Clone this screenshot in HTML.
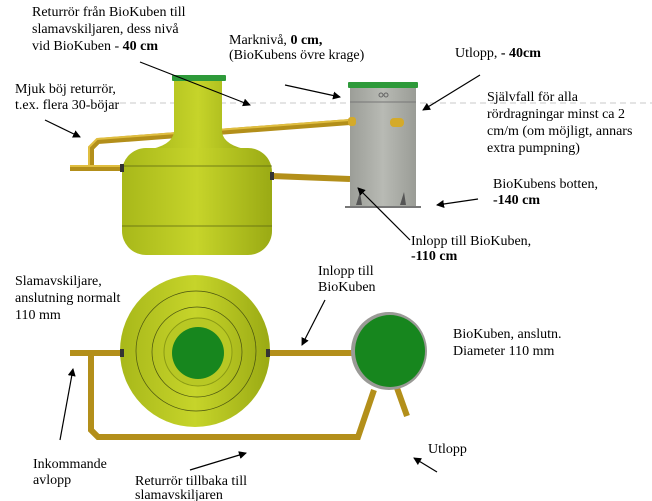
<!DOCTYPE html>
<html><head><meta charset="utf-8"><style>
html,body{margin:0;padding:0;background:#fff;}
svg{display:block;font-family:"Liberation Serif",serif;font-size:14px;}
</style></head><body>
<svg width="652" height="501" viewBox="0 0 652 501" xmlns="http://www.w3.org/2000/svg">
<defs>
<linearGradient id="yg" x1="0" x2="1" y1="0" y2="0">
<stop offset="0" stop-color="#a8b81a"/><stop offset="0.5" stop-color="#c6d42a"/><stop offset="1" stop-color="#9aaa14"/></linearGradient>
<linearGradient id="gg" x1="0" x2="1" y1="0" y2="0">
<stop offset="0" stop-color="#9c9e98"/><stop offset="0.5" stop-color="#b8bab4"/><stop offset="1" stop-color="#9a9c96"/></linearGradient>
<marker id="ah" markerWidth="8" markerHeight="8" refX="7" refY="4" orient="auto" markerUnits="userSpaceOnUse"><path d="M0,0 L8,4 L0,8 z" fill="#000"/></marker>
</defs>
<line x1="100" y1="103" x2="652" y2="103" stroke="#c8c8c8" stroke-dasharray="6,4"/>
<g stroke="#b38f1a" stroke-width="6" fill="none">
<line x1="70" y1="168" x2="124" y2="168"/>
<polyline points="91,168 91,148 98,141 350,122"/>
<line x1="272" y1="176" x2="350" y2="179"/>
</g>
<g stroke="#e0be40" stroke-width="2" fill="none"><line x1="70" y1="166" x2="124" y2="166"/><polyline points="89,166 89,147 97,139 350,120"/></g>
<path d="M174,80 L222,80 L222,132 Q224,146 250,150 L146,150 Q172,146 174,132 Z" fill="url(#yg)"/>
<rect x="172" y="75" width="54" height="6" rx="1" fill="#2e9a3a"/>
<rect x="122" y="148" width="150" height="107" rx="24" fill="url(#yg)"/>
<line x1="122" y1="166" x2="272" y2="166" stroke="#5a6410" stroke-width="0.8"/>
<line x1="122" y1="226" x2="272" y2="226" stroke="#5a6410" stroke-width="0.8"/>
<rect x="120" y="164" width="4" height="8" fill="#333"/>
<rect x="270" y="172" width="4" height="8" fill="#333"/>
<rect x="350" y="86" width="66" height="121" fill="url(#gg)"/>
<rect x="348" y="82" width="70" height="6" rx="1" fill="#2e9a3a"/>
<line x1="345" y1="207" x2="421" y2="207" stroke="#777" stroke-width="2"/>
<line x1="350" y1="102" x2="416" y2="102" stroke="#777"/>
<circle cx="381" cy="95" r="2" fill="none" stroke="#666"/><circle cx="386" cy="95" r="2" fill="none" stroke="#666"/>
<rect x="390" y="118" width="14" height="9" rx="4" fill="#d4aa2a"/>
<rect x="348" y="117" width="8" height="9" rx="3" fill="#d4aa2a"/>
<path d="M356,205 L360,192 L362,205Z M400,205 L404,192 L406,205Z" fill="#555"/>
<g stroke="#b38f1a" stroke-width="6" fill="none">
<line x1="70" y1="353" x2="125" y2="353"/>
<line x1="268" y1="353" x2="355" y2="353"/>
<polyline points="91,353 91,430 98,437 358,437 374,390"/>
<line x1="397" y1="388" x2="407" y2="416"/>
</g>
<ellipse cx="195" cy="351" rx="75" ry="76" fill="url(#yg)"/>
<ellipse cx="196" cy="351" rx="60" ry="60" fill="none" stroke="#4a5410" stroke-width="0.7"/>
<ellipse cx="197" cy="352" rx="45" ry="45" fill="none" stroke="#4a5410" stroke-width="0.7"/>
<ellipse cx="198" cy="352" rx="34" ry="34" fill="#b8c824" stroke="#8a9a14"/>
<circle cx="198" cy="353" r="26" fill="#17861e"/>
<rect x="120" y="349" width="4" height="8" fill="#333"/>
<rect x="266" y="349" width="4" height="8" fill="#333"/>
<ellipse cx="389" cy="351" rx="38" ry="39" fill="#9a9a96"/>
<ellipse cx="390" cy="351" rx="35" ry="36" fill="#17861e"/>
<g stroke="#000" stroke-width="1.2" marker-end="url(#ah)">
<line x1="140" y1="62" x2="250" y2="105"/>
<line x1="285" y1="85" x2="340" y2="97"/>
<line x1="480" y1="75" x2="423" y2="110"/>
<line x1="45" y1="120" x2="80" y2="137"/>
<line x1="478" y1="199" x2="437" y2="205"/>
<line x1="410" y1="240" x2="358" y2="188"/>
<line x1="325" y1="300" x2="302" y2="345"/>
<line x1="60" y1="440" x2="73" y2="369"/>
<line x1="190" y1="470" x2="246" y2="453"/>
<line x1="437" y1="472" x2="414" y2="458"/>
</g>
<g fill="#000">
<text x="32" y="16">Returrör från BioKuben till</text>
<text x="32" y="33">slamavskiljaren, dess nivå</text>
<text x="32" y="50">vid BioKuben - <tspan font-weight="bold">40 cm</tspan></text>
<text x="229" y="44">Marknivå, <tspan font-weight="bold">0 cm,</tspan></text>
<text x="229" y="59">(BioKubens övre krage)</text>
<text x="455" y="57">Utlopp, <tspan font-weight="bold">- 40cm</tspan></text>
<text x="15" y="93">Mjuk böj returrör,</text>
<text x="15" y="109">t.ex. flera 30-böjar</text>
<text x="487" y="101">Självfall för alla</text>
<text x="487" y="118">rördragningar minst ca 2</text>
<text x="487" y="135">cm/m (om möjligt, annars</text>
<text x="487" y="152">extra pumpning)</text>
<text x="493" y="188">BioKubens botten,</text>
<text x="493" y="204" font-weight="bold">-140 cm</text>
<text x="411" y="245">Inlopp till BioKuben,</text>
<text x="411" y="260" font-weight="bold">-110 cm</text>
<text x="15" y="285">Slamavskiljare,</text>
<text x="15" y="302">anslutning normalt</text>
<text x="15" y="319">110 mm</text>
<text x="318" y="275">Inlopp till</text>
<text x="318" y="291">BioKuben</text>
<text x="453" y="338">BioKuben, anslutn.</text>
<text x="453" y="355">Diameter 110 mm</text>
<text x="33" y="468">Inkommande</text>
<text x="33" y="484">avlopp</text>
<text x="135" y="485">Returrör tillbaka till</text>
<text x="135" y="499">slamavskiljaren</text>
<text x="428" y="453">Utlopp</text>
</g>
</svg>
</body></html>
